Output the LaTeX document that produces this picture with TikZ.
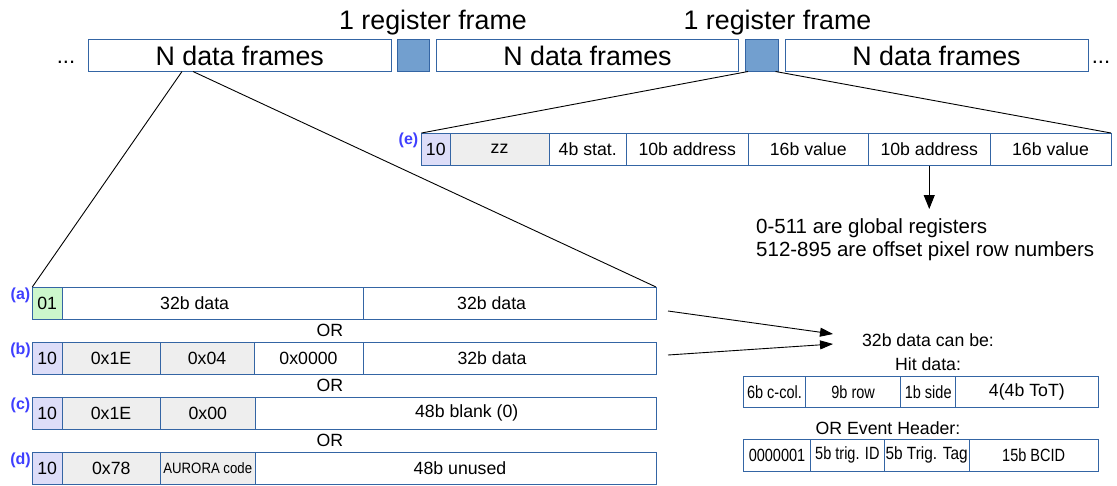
\documentclass[tikz,border=0pt]{standalone}
\usepackage{fontspec}
\usepackage{graphicx}
\setmainfont{Liberation Sans}
\usetikzlibrary{arrows.meta}
\definecolor{bord}{HTML}{3465A4}
\definecolor{regfill}{HTML}{729FCF}
\definecolor{greenfill}{HTML}{CCF7CC}
\definecolor{lavfill}{HTML}{DDDDF8}
\definecolor{grayfill}{HTML}{EEEEEE}
\definecolor{lblblue}{HTML}{3F3FFF}
\newcommand\fsz[1]{\fontsize{#1pt}{#1pt}\selectfont}
\newcommand\hsq[2]{\scalebox{#1}[1]{#2}}
\newcommand\leftby[2]{#2\hspace*{#1}}
\newcommand\cellbox[7][]{\node[cell,#1,minimum width={#5-#3},minimum height={#6-#4}] (#2) at (#3,#4) {#7};}
\begin{document}
\begin{tikzpicture}[x=1pt,y=-1pt,
  cell/.style={draw=bord, line width=1pt, inner sep=0pt, outer sep=0pt, anchor=north west, font=\fsz{17.7}, text=black},
  topcell/.style={font=\fsz{26.8}},
  regcell/.style={fill=regfill},
  lav/.style={fill=lavfill},
  grn/.style={fill=greenfill},
  gry/.style={fill=grayfill},
  lbl/.style={text=lblblue, font=\bfseries\fsz{16}, inner sep=0pt},
  txt/.style={font=\fsz{17.7}, inner sep=0pt},
  conn/.style={draw=black, line width=0.9pt},
  arr/.style={conn, -{Triangle[length=13pt,width=9pt]}}
]
\fill[white] (0,0) rectangle (1117,485);
\useasboundingbox (0,0) rectangle (1117,485);

% top row
\node[font=\fsz{22}, inner sep=0pt, anchor=base] (dotsl) at (66,63) {...};
\cellbox[topcell]{df1}{88.5}{39.5}{391}{71.5}{N data frames}
\cellbox[regcell]{reg1}{397.5}{39.5}{429.5}{71.5}{}
\cellbox[topcell]{df2}{436.5}{39.5}{738.5}{71.5}{N data frames}
\cellbox[regcell]{reg2}{745}{39.5}{778.5}{71.5}{}
\cellbox[topcell]{df3}{785}{39.5}{1088}{71.5}{N data frames}
\node[font=\fsz{22}, inner sep=0pt, anchor=base] (dotsr) at (1101,63) {...};
\node[font=\fsz{26.8}, inner sep=0pt, anchor=base] (rf1) at (433,29.3) {1 register frame};
\node[font=\fsz{26.8}, inner sep=0pt, anchor=base] (rf2) at (777.5,29.3) {1 register frame};

% register frame row (e)
\node[lbl] (le) at (408.5,140.5) {(e)};
\cellbox[lav]{e10}{421.5}{133}{450}{165.5}{10}
\cellbox[gry]{ezz}{450}{133}{549}{165.5}{zz}
\cellbox{estat}{549}{133}{626.5}{165.5}{4b stat.}
\cellbox{eaddr1}{626.5}{133}{748}{165.5}{10b address}
\cellbox{eval1}{748}{133}{868.5}{165.5}{16b value}
\cellbox{eaddr2}{868.5}{133}{990}{165.5}{10b address}
\cellbox{eval2}{990}{133}{1111}{165.5}{16b value}

\node[font=\fsz{20.5}, inner sep=0pt, anchor=west] (glob1) at (756,228) {0-511 are global registers};
\node[font=\fsz{20.5}, inner sep=0pt, anchor=west] (glob2) at (756,251) {512-895 are offset pixel row numbers};
\draw[conn, -{Triangle[length=14pt,width=11pt]}] (eaddr2.south) -- (eaddr2.south |- 0,209) coordinate (gtip);

% data frame rows
\node[lbl] (la) at (20.5,295.5) {(a)};
\cellbox[grn]{a01}{32.3}{287}{62}{319}{01}
\cellbox{a1}{62}{287}{363.3}{319}{\leftby{36pt}{32b data}}
\cellbox{a2}{363.3}{287}{656}{319}{\leftby{36pt}{32b data}}
\node[txt] (or1) at (330,330.5) {OR};

\node[lbl] (lb) at (20.5,350.5) {(b)};
\cellbox[lav]{b10}{32.3}{342}{62}{374}{10}
\cellbox[gry]{b1}{62}{342}{160}{374}{0x1E}
\cellbox[gry]{b2}{160}{342}{254}{374}{0x04}
\cellbox{b3}{254}{342}{363}{374}{0x0000}
\cellbox{b4}{363}{342}{656}{374}{\leftby{35pt}{32b data}}
\node[txt] (or2) at (330,385.5) {OR};

\node[lbl] (lc) at (20.5,405) {(c)};
\cellbox[lav]{c10}{32.3}{397}{62}{429}{10}
\cellbox[gry]{c1}{62}{397}{160}{429}{0x1E}
\cellbox[gry]{c2}{160}{397}{255.5}{429}{0x00}
\cellbox{c3}{255.5}{397}{656}{429}{\hspace*{22pt}48b blank (0)}
\node[txt] (or3) at (330,440.5) {OR};

\node[lbl] (ld) at (20.5,460) {(d)};
\cellbox[lav]{d10}{32.3}{452}{62}{484}{10}
\cellbox[gry]{d1}{62}{452}{160.5}{484}{0x78}
\cellbox[gry,font=\fsz{15}]{d2}{160.5}{452}{255}{484}{\hsq{0.88}{AURORA code}}
\cellbox{d3}{255}{452}{656}{484}{\hspace*{9pt}48b unused}

% zoom lines
\coordinate (df1l) at (182,71.5);
\coordinate (df1r) at (193,71.5);
\draw[conn] (df1l) -- (a01.north west);
\draw[conn] (df1r) -- (a2.north east);
\draw[conn] ([xshift=3pt]reg2.south west) -- (e10.north west);
\draw[conn] ([xshift=-3pt]reg2.south east) -- (eval2.north east);

% 32b data can be
\node[txt] (canbe) at (928,340) {32b data can be:};
\node[txt] (hit) at (928,364) {Hit data:};
\cellbox{h1}{743.3}{376}{805.7}{407.7}{\hsq{0.82}{6b c-col.}}
\cellbox{h2}{805.7}{376}{900.7}{407.7}{\hsq{0.82}{9b row}}
\cellbox{h3}{900.7}{376}{955.7}{407.7}{\hsq{0.82}{1b side}}
\cellbox{h4}{955.7}{376}{1098}{407.7}{4(4b ToT)}
\node[txt] (evh) at (888,428) {OR Event Header:};
\cellbox{v1}{743.3}{439}{810.7}{471.7}{\hsq{0.82}{0000001}}
\cellbox{v2}{810.7}{439}{884}{471.7}{\hsq{0.82}{5b trig. ID}}
\cellbox{v3}{884}{439}{969.3}{471.7}{\hsq{0.87}{5b Trig. Tag}}
\cellbox{v4}{969.3}{439}{1098}{471.7}{\hsq{0.82}{15b BCID}}

\coordinate (arA) at (668,311);
\coordinate (arB) at (668,355);
\coordinate (tA) at (833,334);
\coordinate (tB) at (833,344);
\draw[arr] (arA) -- (tA);
\draw[arr] (arB) -- (tB);
\end{tikzpicture}
\end{document}
